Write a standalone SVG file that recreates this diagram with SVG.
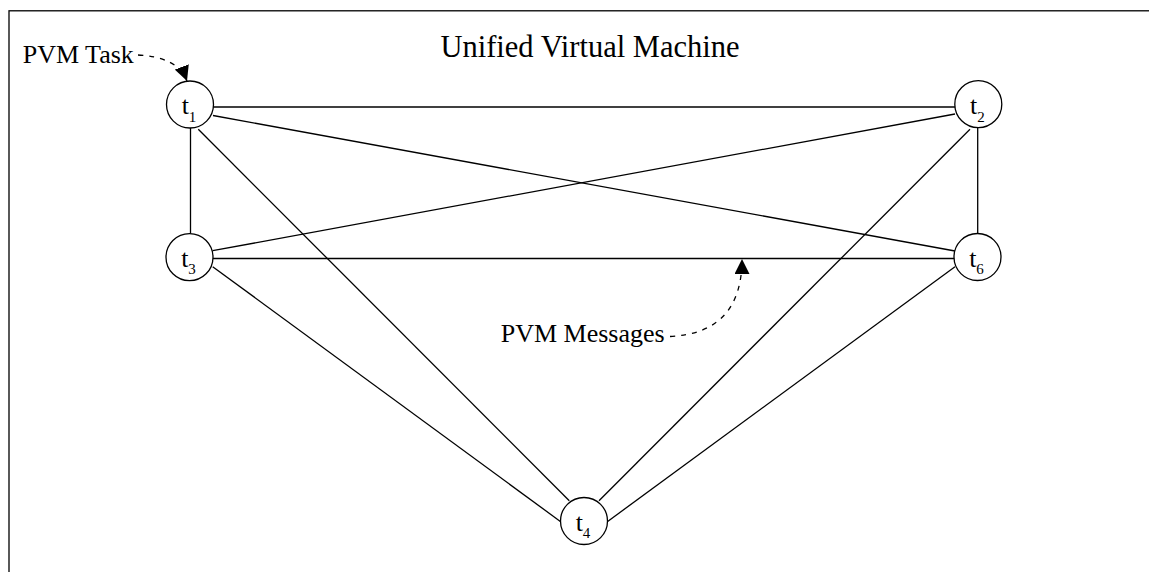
<svg xmlns="http://www.w3.org/2000/svg" width="1149" height="572" viewBox="0 0 1149 572">
<style>
.frame{fill:none;stroke:#000;stroke-width:1.3}
.edge{stroke:#000;stroke-width:1.3;fill:none}
.dash{stroke:#000;stroke-width:1.3;fill:none;stroke-dasharray:5,6}
.node circle{fill:#fff;stroke:#000;stroke-width:1.3}
.lbl{font-family:"Liberation Serif","Times New Roman",serif;fill:#000}
.t{font-family:"Liberation Serif","Times New Roman",serif;font-size:26px;fill:#000;text-anchor:middle}
.sub{font-size:15px}
</style>
<defs>
<marker id="ah" viewBox="0 0 10 10" refX="10" refY="5" markerWidth="15" markerHeight="15" markerUnits="userSpaceOnUse" orient="auto">
<path d="M0,0 L10,5 L0,10 Z" fill="#000"/>
</marker>
</defs>
<rect class="frame" x="9" y="10.8" width="1200" height="600"/>
<text class="lbl" x="590" y="57" font-size="30.5" text-anchor="middle">Unified Virtual Machine</text>
<g id="connectors">
<line class="edge" x1="213" y1="107" x2="955" y2="107"/>
<line class="edge" x1="213" y1="115.5" x2="955" y2="251"/>
<line class="edge" x1="212.7" y1="250.7" x2="955" y2="114"/>
<line class="edge" x1="213" y1="258.5" x2="955" y2="258.5"/>
<line class="edge" x1="190.5" y1="128" x2="190.5" y2="233.5"/>
<line class="edge" x1="977.7" y1="128" x2="977.7" y2="233.5"/>
<line class="edge" x1="198.3" y1="129.3" x2="569.3" y2="500.7"/>
<line class="edge" x1="212.7" y1="266.7" x2="560.7" y2="521.7"/>
<line class="edge" x1="970" y1="129.3" x2="599" y2="500.7"/>
<line class="edge" x1="955" y1="266.7" x2="607.3" y2="521.7"/>
<path class="dash" d="M138 55 Q178 57 187 81" marker-end="url(#ah)"/>
<path class="dash" d="M670 336.5 Q742 333 742 259" marker-end="url(#ah)"/>
</g>
<g id="t1" class="node"><circle cx="190" cy="104.5" r="23.5"/><text class="t" x="189" y="114">t<tspan class="sub" dy="7.5">1</tspan></text></g>
<g id="t2" class="node"><circle cx="978.3" cy="104.2" r="23.5"/><text class="t" x="977.3" y="114">t<tspan class="sub" dy="7.5">2</tspan></text></g>
<g id="t3" class="node"><circle cx="189.5" cy="257.2" r="23.5"/><text class="t" x="188.5" y="266.5">t<tspan class="sub" dy="7.5">3</tspan></text></g>
<g id="t6" class="node"><circle cx="977.5" cy="257" r="23.5"/><text class="t" x="976.5" y="266.5">t<tspan class="sub" dy="7.5">6</tspan></text></g>
<g id="t4" class="node"><circle cx="584" cy="521" r="23.5"/><text class="t" x="583" y="530.5">t<tspan class="sub" dy="7.5">4</tspan></text></g>
<text class="lbl" x="22.7" y="63.3" font-size="26">PVM Task</text>
<text class="lbl" x="500.7" y="341.7" font-size="26">PVM Messages</text>
</svg>
